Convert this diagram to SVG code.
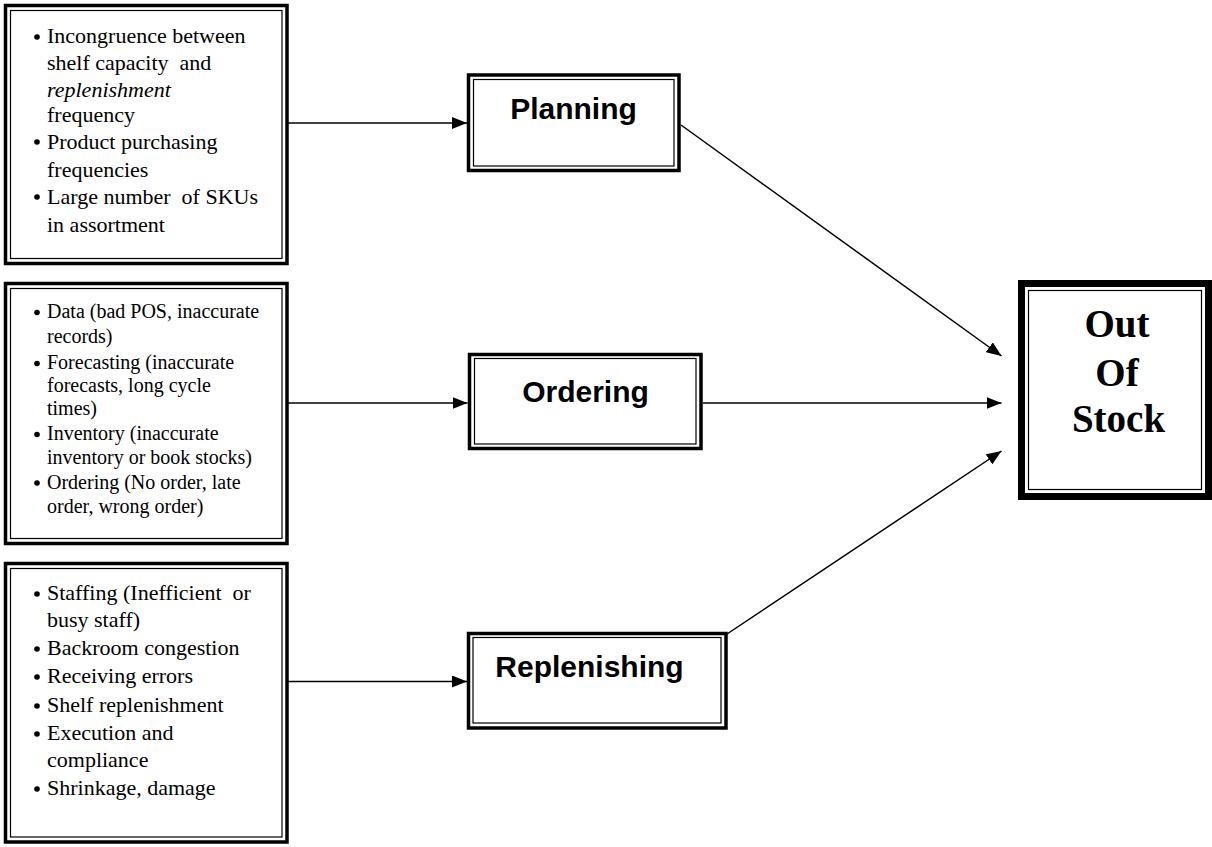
<svg xmlns="http://www.w3.org/2000/svg" width="1212" height="847" viewBox="0 0 1212 847">
<style>
.bg{fill:#ffffff}
.thick{fill:none;stroke:#000;stroke-width:3.5}
.thin{fill:none;stroke:#000;stroke-width:1.2}
.thickx{fill:none;stroke:#000;stroke-width:7}
.lst{font-family:"Liberation Serif","Times New Roman",serif;font-size:22px;fill:#000;white-space:pre}
.lst2{font-family:"Liberation Serif","Times New Roman",serif;font-size:20px;fill:#000;white-space:pre}
.proc{font-family:"Liberation Sans",Arial,sans-serif;font-size:30px;font-weight:bold;fill:#000;text-anchor:middle}
.oos{font-family:"Liberation Serif","Times New Roman",serif;font-size:39px;font-weight:bold;fill:#000;text-anchor:middle}
.conn{fill:none;stroke:#000;stroke-width:1.5}
.blt{fill:#000}
</style>
<defs>
<marker id="ah" markerWidth="16" markerHeight="12" refX="15" refY="6" orient="auto" markerUnits="userSpaceOnUse">
<path d="M0,0 L15,6 L0,12 z" fill="#000"/>
</marker>
</defs>
<rect class="bg" x="0" y="0" width="1212" height="847"/>

<g id="causes-planning">
<rect class="thick" x="5.5" y="5.5" width="281.5" height="258"/>
<rect class="thin" x="10.5" y="10.5" width="271.5" height="248"/>
<circle class="blt" cx="37" cy="37" r="2.8"/>
<text class="lst" x="47" y="43" xml:space="preserve">Incongruence between</text>
<text class="lst" x="47" y="70" xml:space="preserve">shelf capacity  and</text>
<text class="lst" x="47" y="96.5" font-style="italic">replenishment</text>
<text class="lst" x="47" y="122">frequency</text>
<circle class="blt" cx="37" cy="142" r="2.8"/>
<text class="lst" x="47" y="148.5">Product purchasing</text>
<text class="lst" x="47" y="176.5">frequencies</text>
<circle class="blt" cx="37" cy="197" r="2.8"/>
<text class="lst" x="47" y="203.5" xml:space="preserve">Large number  of SKUs</text>
<text class="lst" x="47" y="231.5">in assortment</text>
</g>

<g id="causes-ordering">
<rect class="thick" x="5.5" y="283.5" width="281.5" height="260"/>
<rect class="thin" x="10.5" y="288.5" width="271.5" height="250"/>
<circle class="blt" cx="37" cy="312.5" r="2.8"/>
<text class="lst2" x="47" y="318">Data (bad POS, inaccurate</text>
<text class="lst2" x="47" y="343">records)</text>
<circle class="blt" cx="37" cy="363.5" r="2.8"/>
<text class="lst2" x="47" y="369">Forecasting (inaccurate</text>
<text class="lst2" x="47" y="391.5">forecasts, long cycle</text>
<text class="lst2" x="47" y="415">times)</text>
<circle class="blt" cx="37" cy="434.5" r="2.8"/>
<text class="lst2" x="47" y="440">Inventory (inaccurate</text>
<text class="lst2" x="47" y="463.5">inventory or book stocks)</text>
<circle class="blt" cx="37" cy="483" r="2.8"/>
<text class="lst2" x="47" y="488.5">Ordering (No order, late</text>
<text class="lst2" x="47" y="513">order, wrong order)</text>
</g>

<g id="causes-replenishing">
<rect class="thick" x="5.5" y="563.5" width="281.5" height="278.5"/>
<rect class="thin" x="10.5" y="568.5" width="271.5" height="268.5"/>
<circle class="blt" cx="37" cy="594" r="2.8"/>
<text class="lst" x="47" y="600" xml:space="preserve">Staffing (Inefficient  or</text>
<text class="lst" x="47" y="627">busy staff)</text>
<circle class="blt" cx="37" cy="649" r="2.8"/>
<text class="lst" x="47" y="655">Backroom congestion</text>
<circle class="blt" cx="37" cy="677" r="2.8"/>
<text class="lst" x="47" y="683">Receiving errors</text>
<circle class="blt" cx="37" cy="706" r="2.8"/>
<text class="lst" x="47" y="712">Shelf replenishment</text>
<circle class="blt" cx="37" cy="734" r="2.8"/>
<text class="lst" x="47" y="740">Execution and</text>
<text class="lst" x="47" y="767">compliance</text>
<circle class="blt" cx="37" cy="789" r="2.8"/>
<text class="lst" x="47" y="795">Shrinkage, damage</text>
</g>

<g id="planning">
<rect class="thick" x="468.5" y="75" width="210.5" height="95.5"/>
<rect class="thin" x="473.5" y="79.5" width="200.5" height="86.5"/>
<text class="proc" x="573.5" y="119">Planning</text>
</g>

<g id="ordering">
<rect class="thick" x="469.5" y="354.5" width="231.5" height="94"/>
<rect class="thin" x="474.5" y="358.5" width="221.5" height="85.5"/>
<text class="proc" x="585.5" y="401.5">Ordering</text>
</g>

<g id="replenishing">
<rect class="thick" x="468.5" y="633.5" width="257.5" height="94.5"/>
<rect class="thin" x="473" y="637.5" width="248" height="85.5"/>
<text class="proc" x="589.5" y="676.5">Replenishing</text>
</g>

<g id="out-of-stock">
<rect class="thickx" x="1021.5" y="283.5" width="187" height="213"/>
<rect class="thin" x="1028.5" y="290.5" width="173" height="199"/>
<text class="oos" x="1117" y="337">Out</text>
<text class="oos" x="1117" y="386">Of</text>
<text class="oos" x="1118.5" y="432">Stock</text>
</g>

<g id="connectors">
<line class="conn" x1="288" y1="123" x2="467" y2="123" marker-end="url(#ah)"/>
<line class="conn" x1="288" y1="403" x2="467.5" y2="403" marker-end="url(#ah)"/>
<line class="conn" x1="288" y1="681.5" x2="467" y2="681.5" marker-end="url(#ah)"/>
<line class="conn" x1="681" y1="125" x2="1001.5" y2="356" marker-end="url(#ah)"/>
<line class="conn" x1="703" y1="403" x2="1001.5" y2="403" marker-end="url(#ah)"/>
<line class="conn" x1="727" y1="634" x2="1001.5" y2="451" marker-end="url(#ah)"/>
</g>
</svg>
